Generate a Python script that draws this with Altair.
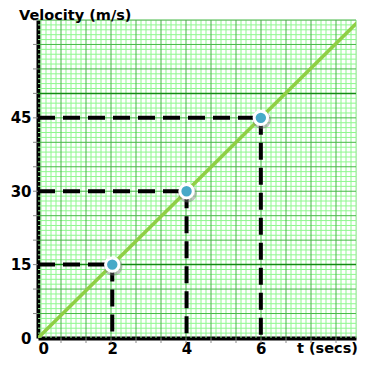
import altair as alt
import pandas as pd

# data
t_points = [2, 4, 6]
v_points = [15, 30, 45]
line_t = [0, 8.7]
line_v = [0, 65.25]
x_labels = [0, 2, 4, 6]
y_labels = [0, 15, 30, 45]

PXU = 37.14          # pixels per second
W, H = 318, 318
XMAX = W / PXU
YMAX = 65

xs = alt.Scale(domain=[0, XMAX], nice=False, zero=False)
ys = alt.Scale(domain=[0, YMAX], nice=False, zero=False)

# graph-paper grid (style)
vmin = [(3 + 5 * k) / PXU for k in range(0, 66) if 3 + 5 * k <= W and (3 + 5 * k - 23) % 25 != 0]
vmed = [(23 + 25 * k) / PXU for k in range(0, 13) if 23 + 25 * k <= W]
hmin = [k for k in range(0, 66) if k % 5 != 0]
hmed = [k for k in range(5, 66, 5) if k not in (15, 50)]
hstrong = [15, 50]

def vrules(vals, color, w=1):
    return alt.Chart(pd.DataFrame({"t": vals})).mark_rule(color=color, strokeWidth=w).encode(
        x=alt.X("t:Q", scale=xs))

def hrules(vals, color, w=1):
    return alt.Chart(pd.DataFrame({"v": vals})).mark_rule(color=color, strokeWidth=w).encode(
        y=alt.Y("v:Q", scale=ys))

grid = [
    vrules(vmin, "#8ef78e"), hrules(hmin, "#8ef78e"),
    vrules(vmed, "#45b845"), hrules(hmed, "#45b845"),
    hrules(hstrong, "#138a13", 1.5),
]

# small ticks outside the axes
xticks = alt.Chart(pd.DataFrame({"t": vmed})).mark_rule(color="#888888", strokeWidth=1).encode(
    x=alt.X("t:Q", scale=xs), y=alt.value(H), y2=alt.value(H + 5))
yticks = alt.Chart(pd.DataFrame({"v": list(range(5, 66, 5))})).mark_rule(
    color="#888888", strokeWidth=1).encode(
    y=alt.Y("v:Q", scale=ys), x=alt.value(-5), x2=alt.value(0))

# main line
line = alt.Chart(pd.DataFrame({"t": line_t, "v": line_v})).mark_line(
    color="#8fcf45", strokeWidth=3.5, clip=True).encode(
    x=alt.X("t:Q", scale=xs,
            axis=alt.Axis(values=x_labels, title=None, grid=False, tickSize=0,
                          domainColor="black", domainWidth=4, labelOverlap=False,
                          labelFont="DejaVu Sans", labelFontWeight="bold", labelFontSize=15,
                          labelColor="black", labelPadding=3)),
    y=alt.Y("v:Q", scale=ys,
            axis=alt.Axis(values=y_labels, title=None, grid=False, tickSize=0,
                          domainColor="black", domainWidth=4, labelOverlap=False,
                          labelFont="DejaVu Sans", labelFontWeight="bold", labelFontSize=15,
                          labelColor="black", labelPadding=7)),
)

pts = pd.DataFrame({"t": t_points, "v": v_points, "zero": [0] * len(t_points)})

hdash = alt.Chart(pts).mark_rule(color="black", strokeWidth=4, strokeDash=[17, 8]).encode(
    x=alt.X("zero:Q", scale=xs), x2="t:Q", y=alt.Y("v:Q", scale=ys))
vdash = alt.Chart(pts).mark_rule(color="black", strokeWidth=4, strokeDash=[17, 8]).encode(
    x=alt.X("t:Q", scale=xs), y=alt.Y("v:Q", scale=ys), y2="zero:Q")

shadow = alt.Chart(pts).mark_circle(color="#777777", opacity=0.45, size=340, xOffset=1, yOffset=2).encode(
    x=alt.X("t:Q", scale=xs), y=alt.Y("v:Q", scale=ys))
dots = alt.Chart(pts).mark_point(filled=True, fill="#47a9c8", stroke="white", strokeWidth=3,
                                 size=180, opacity=1, fillOpacity=1, shape="circle").encode(
    x=alt.X("t:Q", scale=xs), y=alt.Y("v:Q", scale=ys))

ytitle = alt.Chart(pd.DataFrame({"s": ["Velocity (m/s)"]})).mark_text(
    font="DejaVu Sans", fontWeight="bold", fontSize=14.5, align="left", baseline="alphabetic",
    color="black").encode(x=alt.value(-19), y=alt.value(0), text="s:N")
xtitle = alt.Chart(pd.DataFrame({"s": ["t (secs)"]})).mark_text(
    font="DejaVu Sans", fontWeight="bold", fontSize=14.5, align="left", baseline="alphabetic",
    color="black").encode(x=alt.value(259), y=alt.value(H + 15), text="s:N")

chart = alt.layer(*grid, xticks, yticks, line, hdash, vdash, shadow, dots, ytitle, xtitle).properties(
    width=W, height=H,
    autosize=alt.AutoSizeParams(type="none"),
    padding={"left": 30, "top": 12, "right": 2, "bottom": 20},
).configure_view(stroke=None).configure(background="white")

chart.save("out.html", embed_options={"renderer": "svg", "actions": False})
